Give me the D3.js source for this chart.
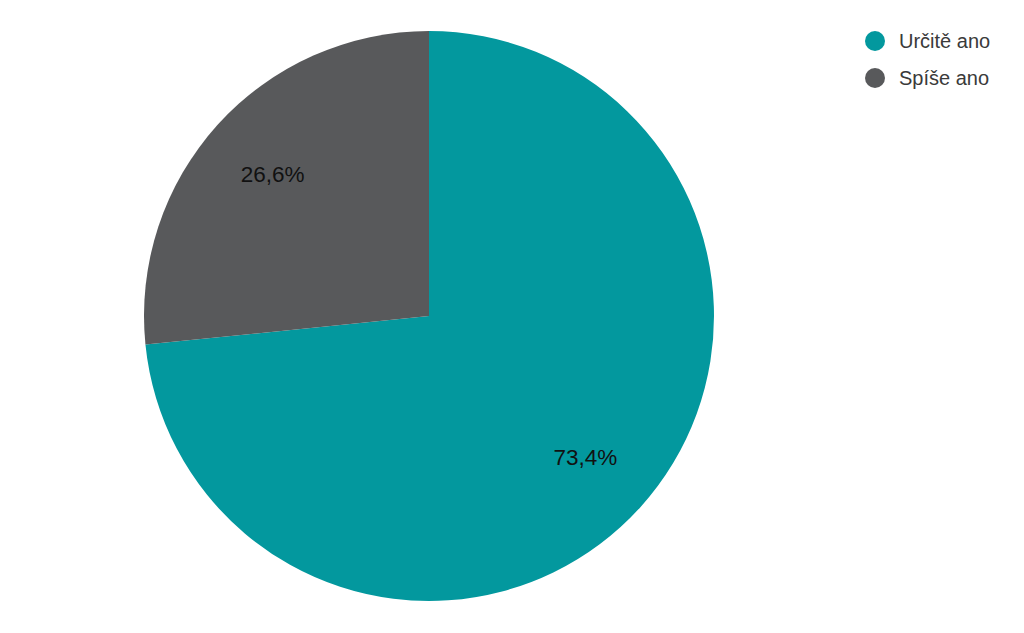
<!DOCTYPE html>
<html><head><meta charset="utf-8">
<script src="https://cdn.jsdelivr.net/npm/d3@7"></script>
<style>body{margin:0;background:#fff;} svg{display:block;font-family:"Liberation Sans",Arial,sans-serif;}</style>
</head><body>
<svg id="c" width="1024" height="633"></svg>
<script>
const categories = ["Určitě ano", "Spíše ano"];
const values = [73.4, 26.6];
const labels = ["73,4%", "26,6%"];
const colors = ["#03989e", "#58595b"];

const svg = d3.select("#c");
const cx = 429, cy = 316, R = 285;
const g = svg.append("g").attr("transform", `translate(${cx},${cy})`);
const pie = d3.pie().sort(null).value(d => d)(values);
const arc = d3.arc().innerRadius(0).outerRadius(R);
const labelArc = d3.arc().innerRadius(R * 0.74).outerRadius(R * 0.74);
g.selectAll("path").data(pie).enter().append("path")
  .attr("d", arc).attr("fill", (d, i) => colors[i]);
g.selectAll("text").data(pie).enter().append("text")
  .attr("transform", d => `translate(${labelArc.centroid(d)})`)
  .attr("text-anchor", "middle").attr("dominant-baseline", "central")
  .attr("font-size", 22.5).attr("fill", "#111")
  .text((d, i) => labels[i]);

const leg = svg.append("g");
categories.forEach((c, i) => {
  const y = 41 + i * 37;
  leg.append("circle").attr("cx", 875).attr("cy", y).attr("r", 10).attr("fill", colors[i]);
  leg.append("text").attr("x", 899).attr("y", y).attr("dominant-baseline", "central")
    .attr("font-size", 20).attr("fill", "#3a3a3a").text(c);
});
</script>
</body></html>
